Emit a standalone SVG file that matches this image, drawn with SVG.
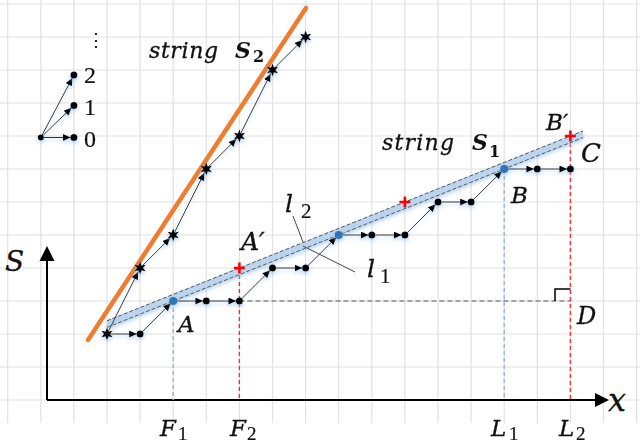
<svg xmlns="http://www.w3.org/2000/svg" width="640" height="445" viewBox="0 0 640 445">
<defs>
<style>
.grid{stroke:#e2e2e2;stroke-width:1.2;fill:none}
.seg{stroke:#333;stroke-width:1;fill:none}
.m{font-family:"DejaVu Serif","Liberation Serif",serif;font-style:italic;fill:#111;stroke:#111;stroke-width:0.3}
.d{font-family:"Liberation Serif","DejaVu Serif",serif;fill:#111;stroke:#111;stroke-width:0.2}
.b{font-family:"DejaVu Serif","Liberation Serif",serif;font-style:italic;font-weight:bold;fill:#111}
.bd{font-family:"DejaVu Serif","Liberation Serif",serif;font-weight:bold;fill:#111}
.dot{fill:#000}
.blue{fill:#2e75b6}
.rdash{stroke:#ff2a2a;stroke-width:1.4;stroke-dasharray:4 3;fill:none}
.bdash{stroke:#8fb7e3;stroke-width:1.4;stroke-dasharray:4 3;fill:none}
.cross{stroke:#ff0000;stroke-width:2.6;fill:none}
.lead{stroke:#444;stroke-width:1;fill:none}
</style>
<marker id="ah" markerUnits="userSpaceOnUse" markerWidth="12" markerHeight="8" refX="11" refY="3.5" orient="auto"><path d="M0,0 L8,3.5 L0,7z" fill="#000"/></marker>
<marker id="as" markerUnits="userSpaceOnUse" markerWidth="12" markerHeight="8" refX="12" refY="3.5" orient="auto"><path d="M0,0 L8,3.5 L0,7z" fill="#000"/></marker>
<path id="star" d="M0,-6.5 L1.5,-2.6 L5.6,-3.25 L3,0 L5.6,3.25 L1.5,2.6 L0,6.5 L-1.5,2.6 L-5.6,3.25 L-3,0 L-5.6,-3.25 L-1.5,-2.6z" fill="#000"/>
<filter id="glow" x="-50%" y="-50%" width="200%" height="200%">
<feGaussianBlur in="SourceAlpha" stdDeviation="2.2"/>
<feOffset dy="1.5" result="bl"/>
<feFlood flood-color="#9dc3e6" flood-opacity="0.8"/>
<feComposite in2="bl" operator="in"/>
<feMerge><feMergeNode/><feMergeNode in="SourceGraphic"/></feMerge>
</filter>
</defs>
<rect width="640" height="445" fill="#fff"/>
<g id="grid">
<path class="grid" d="M7.7,0V423M40.8,0V423M73.9,0V423M107,0V423M140.1,0V423M173.2,0V423M206.3,0V423M239.4,0V423M272.5,0V423M305.6,0V423M338.7,0V423M371.8,0V423M404.9,0V423M438,0V423M471.1,0V423M504.2,0V423M537.3,0V423M570.4,0V423M603.5,0V423M636.6,0V423"/>
<path class="grid" d="M0,400H640M0,367H640M0,334H640M0,301H640M0,268H640M0,235H640M0,202H640M0,169H640M0,136H640M0,103H640M0,70H640M0,37H640M0,4H640"/>
</g>
<g id="axes">
<path d="M47,400V258M47,400H596" stroke="#000" stroke-width="2" fill="none"/>
<polygon points="47,246 39.5,261 54.5,261" fill="#000"/>
<polygon points="609,400 595,393 595,407" fill="#000"/>
<text class="m" x="5" y="271" font-size="28">S</text>
<text class="m" x="608" y="411" font-size="32">x</text>
</g>
<g id="guides">
<path class="bdash" d="M173.2,301V400M504.2,169V400"/>
<path class="rdash" d="M239.4,268V400M570.4,136V400"/>
<path d="M239.4,301H570.4" stroke="#555" stroke-width="1" stroke-dasharray="5 3" fill="none"/>
<path d="M555,301V289H570.4" stroke="#000" stroke-width="1.5" fill="none"/>
</g>
<g id="orange-line">
<line x1="88" y1="340" x2="306" y2="8" stroke="#ed7d31" stroke-width="4.5" stroke-linecap="round"/>
</g>
<g id="band" filter="url(#glow)">
<polygon points="107,320.8 583,131 583,137.6 107,327.4" fill="#bcd4ee"/>
<line x1="107" y1="320.8" x2="583" y2="131" stroke="#555" stroke-width="1" stroke-dasharray="4 2"/>
<line x1="107" y1="327.4" x2="583" y2="137.6" stroke="#555" stroke-width="1" stroke-dasharray="4 2"/>
</g>
<g id="connectors">
<g filter="url(#glow)">
<line class="seg" marker-end="url(#ah)" x1="107" y1="334" x2="140.1" y2="334"/>
<line class="seg" marker-end="url(#ah)" x1="140.1" y1="334" x2="173.2" y2="301"/>
<line class="seg" marker-end="url(#ah)" x1="173.2" y1="301" x2="206.3" y2="301"/>
<line class="seg" marker-end="url(#ah)" x1="206.3" y1="301" x2="239.4" y2="301"/>
<line class="seg" marker-end="url(#ah)" x1="239.4" y1="301" x2="272.5" y2="268"/>
<line class="seg" marker-end="url(#ah)" x1="272.5" y1="268" x2="305.6" y2="268"/>
<line class="seg" marker-end="url(#ah)" x1="305.6" y1="268" x2="338.7" y2="235"/>
<line class="seg" marker-end="url(#ah)" x1="338.7" y1="235" x2="371.8" y2="235"/>
<line class="seg" marker-end="url(#ah)" x1="371.8" y1="235" x2="404.9" y2="235"/>
<line class="seg" marker-end="url(#ah)" x1="404.9" y1="235" x2="438" y2="202"/>
<line class="seg" marker-end="url(#ah)" x1="438" y1="202" x2="471.1" y2="202"/>
<line class="seg" marker-end="url(#ah)" x1="471.1" y1="202" x2="504.2" y2="169"/>
<line class="seg" marker-end="url(#ah)" x1="504.2" y1="169" x2="537.3" y2="169"/>
<line class="seg" marker-end="url(#ah)" x1="537.3" y1="169" x2="570.4" y2="169"/>
<line class="seg" marker-end="url(#as)" x1="107" y1="334" x2="140.1" y2="268"/>
<line class="seg" marker-end="url(#as)" x1="140.1" y1="268" x2="173.2" y2="235"/>
<line class="seg" marker-end="url(#as)" x1="173.2" y1="235" x2="206.3" y2="169"/>
<line class="seg" marker-end="url(#as)" x1="206.3" y1="169" x2="239.4" y2="136"/>
<line class="seg" marker-end="url(#as)" x1="239.4" y1="136" x2="272.5" y2="70"/>
<line class="seg" marker-end="url(#as)" x1="272.5" y1="70" x2="305.6" y2="37"/>
<line class="seg" marker-end="url(#ah)" x1="40.8" y1="137.5" x2="73.9" y2="137.5"/>
<line class="seg" marker-end="url(#ah)" x1="40.8" y1="137.5" x2="73.9" y2="105.5"/>
<line class="seg" marker-end="url(#ah)" x1="40.8" y1="137.5" x2="73.9" y2="75"/>
</g>
<path class="lead" d="M293,216L303,242M303,246L355,272"/>
</g>
<g id="s2-points" filter="url(#glow)">
<g id="s2-p0"><use href="#star" x="107" y="334"/></g>
<g id="s2-p1"><use href="#star" x="140.1" y="268"/></g>
<g id="s2-p2"><use href="#star" x="173.2" y="235"/></g>
<g id="s2-p3"><use href="#star" x="206.3" y="169"/></g>
<g id="s2-p4"><use href="#star" x="239.4" y="136"/></g>
<g id="s2-p5"><use href="#star" x="272.5" y="70"/></g>
<g id="s2-p6"><use href="#star" x="305.6" y="37"/></g>
</g>
<g id="s1-points" filter="url(#glow)">
<g id="s1-p1"><circle class="dot" cx="140.1" cy="334" r="3.5"/></g>
<g id="s1-A"><circle class="blue" cx="173.2" cy="301" r="4"/></g>
<g id="s1-p3"><circle class="dot" cx="206.3" cy="301" r="3.5"/></g>
<g id="s1-p4"><circle class="dot" cx="239.4" cy="301" r="3.5"/></g>
<g id="s1-p5"><circle class="dot" cx="272.5" cy="268" r="3.5"/></g>
<g id="s1-p6"><circle class="dot" cx="305.6" cy="268" r="3.5"/></g>
<g id="s1-p7"><circle class="blue" cx="338.7" cy="235" r="4"/></g>
<g id="s1-p8"><circle class="dot" cx="371.8" cy="235" r="3.5"/></g>
<g id="s1-p9"><circle class="dot" cx="404.9" cy="235" r="3.5"/></g>
<g id="s1-p10"><circle class="dot" cx="438" cy="202" r="3.5"/></g>
<g id="s1-p11"><circle class="dot" cx="471.1" cy="202" r="3.5"/></g>
<g id="s1-B"><circle class="blue" cx="504.2" cy="169" r="4"/></g>
<g id="s1-p13"><circle class="dot" cx="537.3" cy="169" r="3.5"/></g>
<g id="s1-p14"><circle class="dot" cx="570.4" cy="169" r="3.5"/></g>
</g>
<g id="crosses">
<path class="cross" d="M239.4,262.5V273.5M233.9,268H244.9"/>
<path class="cross" d="M404.9,196.5V207.5M399.4,202H410.4"/>
<path class="cross" d="M570.4,130.5V141.5M564.9,136H575.9"/>
</g>
<g id="legend" filter="url(#glow)">
<circle class="dot" cx="40.8" cy="137.5" r="3"/>
<circle class="dot" cx="73.9" cy="137.5" r="3.5"/>
<circle class="dot" cx="73.9" cy="105.5" r="3.5"/>
<circle class="dot" cx="73.9" cy="75" r="3.5"/>
</g>
<g id="legend-labels">
<text class="d" x="84" y="147" font-size="24">0</text>
<text class="d" x="84" y="115" font-size="24">1</text>
<text class="d" x="84" y="83" font-size="24">2</text>
<text class="d" x="87" y="46" font-size="18">⋮</text>
</g>
<g id="labels">
<text class="m" x="149" y="58" font-size="22" textLength="69" lengthAdjust="spacing">string</text>
<text class="b" x="235" y="58" font-size="22">S</text>
<text class="bd" x="253" y="62" font-size="16">2</text>
<text class="m" x="382" y="150" font-size="22" textLength="72" lengthAdjust="spacing">string</text>
<text class="b" x="472" y="150" font-size="22">S</text>
<text class="bd" x="489" y="157" font-size="16">1</text>
<text class="m" x="178" y="332" font-size="23">A</text>
<text class="m" x="241" y="250" font-size="25">A′</text>
<text class="m" x="511" y="203" font-size="23">B</text>
<text class="m" x="546" y="130" font-size="23">B′</text>
<text class="m" x="581" y="162" font-size="26">C</text>
<text class="m" x="577" y="324" font-size="24">D</text>
<text class="m" x="285" y="212" font-size="25">l</text>
<text class="d" x="301" y="218" font-size="21">2</text>
<text class="m" x="367" y="277" font-size="25">l</text>
<text class="d" x="380" y="283" font-size="21">1</text>
<text class="m" x="160" y="436" font-size="23">F</text>
<text class="d" x="178" y="440" font-size="19">1</text>
<text class="m" x="230" y="436" font-size="23">F</text>
<text class="d" x="247" y="440" font-size="19">2</text>
<text class="m" x="491" y="436" font-size="23">L</text>
<text class="d" x="509" y="440" font-size="19">1</text>
<text class="m" x="559" y="436" font-size="23">L</text>
<text class="d" x="576" y="440" font-size="19">2</text>
</g>
</svg>
